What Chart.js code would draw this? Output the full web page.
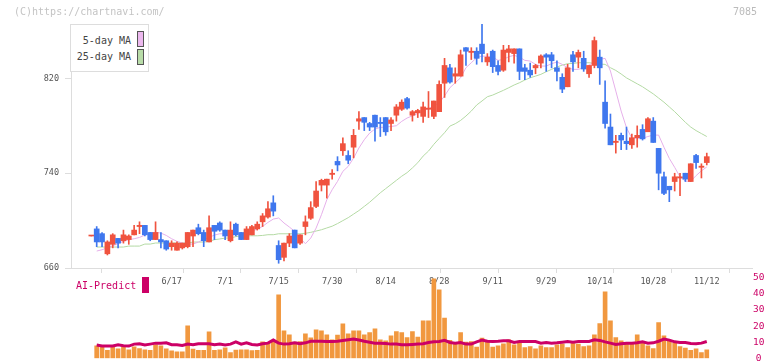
<!DOCTYPE html>
<html>
<head>
<meta charset="utf-8">
<script src="https://cdn.jsdelivr.net/npm/chart.js@4.4.1/dist/chart.umd.min.js"></script>
<style>
  body { margin: 0; background: #fff; }
  #wrap { position: relative; width: 772px; height: 361px; overflow: hidden; font-family: 'DejaVu Sans Mono', monospace; }
  #wrap canvas { position: absolute; left: 0; }
  .txt { position: absolute; white-space: nowrap; line-height: 1; }
  #legend { position: absolute; left: 70px; top: 24px; width: 77px; height: 46px; border: 1px solid #dddddd; background: #fff; z-index: 3; }
  .sw { position: absolute; width: 5px; height: 14px; border: 1px solid #555; }
</style>
</head>
<body>
<div id="wrap">
  <canvas id="main" width="772" height="300" style="top:0"></canvas>
  <canvas id="vol" width="772" height="96" style="top:270px"></canvas>
  <div class="txt" style="left:14px;top:7px;font-size:10px;color:#c4c4c4">(C)https://chartnavi.com/</div>
  <div class="txt" style="right:15px;top:7px;font-size:10px;color:#bbbbbb">7085</div>
  <div id="legend">
    <div class="txt" style="right:17px;top:11px;font-size:10px;color:#444">5-day MA</div>
    <div class="sw" style="left:66px;top:6px;background:#ecb8ee"></div>
    <div class="txt" style="right:17px;top:27px;font-size:10px;color:#444">25-day MA</div>
    <div class="sw" style="left:66px;top:24px;background:#b8dca8"></div>
  </div>
  <div class="txt" style="left:76px;top:281px;font-size:10px;color:#cc0066;z-index:3">AI-Predict</div>
  <div style="position:absolute;left:142px;top:277px;width:7px;height:16px;background:#cc0066;z-index:3"></div>
</div>
<script>
// daily candles (yen)
const opens  = [687,693,689,672,680,685,683,684,688,695,696,690,684,684,683,678,675,677,678,687,
                694,690,682,696,698,692,683,697,690,684,688,693,699,703,715,679,669,681,692,681,
                695,702,712,730,730,739,750,759,755,762,784,787,782,789,783,787,782,789,794,803,
                789,791,788,794,788,792,816,829,822,822,846,842,843,849,834,843,831,827,842,841,
                845,829,827,829,833,840,840,829,821,813,840,838,837,824,831,838,800,779,766,772,
                767,764,770,777,775,784,761,737,729,733,736,740,733,755,745,749];
const highs  = [687,695,690,683,689,685,692,688,696,699,696,690,699,690,683,683,682,681,690,692,
                697,692,704,696,699,692,699,698,690,695,696,699,706,716,721,683,681,689,692,688,
                704,716,733,735,735,743,754,770,759,777,792,787,783,789,787,787,787,798,802,804,
                793,794,800,809,801,818,837,832,829,844,846,846,846,867,841,844,835,848,848,845,
                845,832,833,832,840,841,842,835,824,832,843,844,843,831,855,844,818,790,772,774,
                779,773,780,781,787,787,761,741,729,740,740,740,748,756,748,757];
const lows   = [687,678,678,671,677,677,681,680,688,689,687,683,684,677,675,675,675,676,677,678,
                688,678,682,684,691,684,682,687,684,684,688,692,695,702,704,664,666,678,677,680,
                688,701,711,725,719,735,742,755,748,753,777,776,776,767,771,772,776,784,793,794,
                784,787,783,787,786,792,804,816,816,822,831,836,832,834,831,825,823,826,834,833,
                819,819,821,824,829,826,829,818,808,813,826,829,826,821,829,815,778,764,757,760,
                760,761,762,768,775,766,726,722,716,725,721,733,733,744,736,747];
const closes = [687,682,682,682,688,681,688,687,692,696,688,684,690,682,676,681,681,681,690,692,
                689,683,694,691,692,687,692,688,684,693,695,697,704,710,708,667,681,687,677,688,
                699,711,725,734,735,740,747,765,751,772,786,783,779,779,782,775,785,796,800,795,
                792,793,796,795,801,815,831,817,824,840,843,843,837,841,838,830,826,844,845,845,
                826,826,823,831,839,838,835,826,811,829,834,842,828,831,852,829,782,764,767,768,
                765,770,772,769,786,766,740,723,726,737,737,735,748,749,746,754];

// moving averages, from the second session on
const ma5  = [674.3,675.4,677.1,678.8,680.5,682.5,683.9,684.7,685.8,687.8,689.5,690.1,689.5,687.5,684.7,
              682.5,681.1,680.2,680.2,681.9,683.9,685.8,687.8,688.9,688.9,688.9,689.5,688.9,689.5,690.9,
              692.9,695.1,698.5,701.3,702.2,698.0,694.6,690.9,685.3,680.5,685.3,693.7,705.0,717.6,726.1,
              733.1,741.6,745.8,752.8,761.3,768.3,773.9,777.3,778.7,779.0,779.5,780.1,783.8,786.6,788.5,
              790.5,792.5,794.5,796.7,799.5,805.2,812.2,816.4,820.6,829.1,833.3,837.5,838.9,838.7,838.1,
              835.3,836.1,838.4,839.5,838.1,835.3,834.7,831.9,830.5,830.5,832.5,833.9,831.9,829.1,827.7,
              827.7,829.1,831.3,833.9,836.1,837.0,826.3,809.4,792.5,778.4,769.5,769.5,769.5,771.0,772.2,
              772.2,762.0,752.5,745.0,737.0,733.3,733.3,738.0,742.0,745.3];
const ma25 = [677.7,677.7,677.7,677.7,677.7,677.7,678.5,678.5,678.5,680.2,680.2,681.1,681.1,681.1,681.1,
              681.1,681.1,681.1,681.9,681.9,681.9,682.5,683.9,684.5,685.3,685.3,686.5,687.2,687.2,687.2,
              687.2,687.5,688.1,688.1,688.9,688.9,688.9,688.9,688.9,689.3,690.1,691.2,692.3,693.8,695.3,
              697.5,700.0,702.5,705.5,708.5,712.0,715.5,719.5,723.5,727.0,730.5,734.0,737.5,740.5,744.5,
              748.9,754.5,758.7,764.4,769.4,774.2,779.8,781.8,784.6,788.3,792.5,797.6,801.0,804.6,806.0,
              808.0,810.0,812.2,814.5,816.4,818.7,820.6,822.0,823.5,825.7,827.7,829.7,831.3,832.5,832.7,
              833.3,833.3,833.3,832.7,832.2,831.9,829.1,826.8,823.8,820.5,818.0,815.5,813.0,810.0,807.0,
              803.5,800.0,796.0,792.0,787.5,783.0,779.0,776.0,773.5,771.0];

// lower panel, from the second session on
const volume = [7.8,6.9,4.9,6.9,5.9,6.9,5.3,7.1,6.1,5.3,4.9,8.4,7.8,5.9,4.7,4.0,4.0,20.2,5.7,4.9,
                4.9,16.4,4.9,5.3,6.5,3.6,5.1,5.3,5.3,4.8,4.9,10.2,9.4,10.2,39.4,17.1,14.6,10.0,10.4,15.2,
                12.7,17.7,17.1,14.6,11.5,14.4,21.4,15.2,17.1,17.1,14.6,16.0,18.3,11.5,10.9,14.0,16.6,16.0,12.9,16.6,
                13.1,23.3,23.3,49.3,42.5,24.9,11.1,9.4,16.0,10.0,10.4,6.9,12.5,10.4,6.9,7.8,9.0,11.5,8.4,9.4,
                6.7,7.3,5.9,7.8,6.7,6.7,8.4,8.8,6.7,9.4,8.8,7.3,7.8,14.6,21.6,41.3,23.3,12.9,10.9,9.4,
                9.4,14.6,9.4,7.8,6.1,22.2,14.0,10.9,9.4,7.3,6.3,4.9,5.9,3.6,5.3];
const aiPredict = [8.2,7.6,7.6,7.6,8.4,7.8,7.6,8.8,9.0,8.2,8.8,9.4,9.4,9.6,8.4,8.4,8.0,8.8,8.4,9.0,
                   9.0,9.0,8.4,8.8,8.2,8.8,10.2,8.8,9.6,8.6,8.2,9.0,9.4,11.3,9.4,8.8,9.0,9.6,9.0,9.6,
                   10.6,10.6,10.6,10.4,10.4,10.6,11.1,11.5,11.9,11.3,10.6,10.0,9.4,9.4,9.2,8.8,8.8,8.4,8.4,8.6,
                   8.8,9.0,9.8,10.2,10.4,11.1,9.8,9.4,9.8,8.8,8.8,10.2,11.3,10.6,10.4,10.6,10.9,10.9,9.8,10.4,
                   10.4,10.4,10.4,9.4,9.8,9.4,9.6,10.0,10.4,10.0,10.4,10.4,10.4,11.5,11.1,10.2,9.4,8.6,9.0,9.4,
                   9.4,9.6,10.2,9.4,9.6,10.6,11.9,11.3,10.2,9.8,9.8,9.2,9.0,9.4,10.4];

const dateLabels = ['6/17','7/1','7/15','7/30','8/14','8/28','9/11','9/29','10/14','10/28','11/12'];
const dateIndex  = [15,25,35,45,55,65,75,85,95,105,115];
const priceTicks = [660,740,820];
const volTicks   = [0,10,20,30,40,50];

const UP = '#f0533f', DOWN = '#3f77ee';
const MONO = 'DejaVu Sans Mono';
const X_MIN = -3.8, X_MAX = 123.45;

const candleColors = opens.map((o, i) => closes[i] >= o ? UP : DOWN);
const bodies = opens.map((o, i) => ({x: i, y: [o, closes[i]]}));
const wicks  = lows.map((l, i) => ({x: i, y: [l, highs[i]]}));
const fromSecond = arr => arr.map((v, j) => ({x: j + 1, y: v}));

// 11 equal divisions of the time axis, plus the date positions
const gridTicks = [];
for (let j = 0; j <= 11; j++) gridTicks.push(X_MIN + j * (X_MAX - X_MIN) / 11);
const isDate = v => dateIndex.indexOf(v) >= 0;


const mainChart = new Chart(document.getElementById('main'), {
    type: 'bar',
    data: {
        datasets: [
            { data: bodies, backgroundColor: candleColors, barThickness: 5, minBarLength: 1, grouped: false, order: 0 },
            { data: wicks, backgroundColor: candleColors, barThickness: 1, grouped: false, order: 1 },
            { type: 'line', data: fromSecond(ma5), borderColor: '#e6b0ea', borderWidth: 1, pointRadius: 0, tension: 0, order: 2 },
            { type: 'line', data: fromSecond(ma25), borderColor: '#b4daa4', borderWidth: 1, pointRadius: 0, tension: 0, order: 3 }
        ]
    },
    options: {
        responsive: false,
        animation: false,
        layout: { padding: { top: 24, right: 20, left: 0, bottom: 0 } },
        plugins: { legend: { display: false }, tooltip: { enabled: false } },
        scales: {
            x: {
                type: 'linear', min: X_MIN, max: X_MAX, offset: false,
                afterBuildTicks: s => {
                    s.ticks = gridTicks.concat(dateIndex).sort((a, b) => a - b).map(v => ({ value: v }));
                },
                afterFit: s => { s.height = 32; },
                grid: {
                    drawOnChartArea: false, drawTicks: true, tickLength: 5,
                    tickColor: ctx => (ctx.tick && isDate(ctx.tick.value)) ? 'rgba(0,0,0,0)' : '#dddddd'
                },
                border: { color: '#dddddd' },
                ticks: {
                    autoSkip: false, maxRotation: 0, minRotation: 0, padding: 4,
                    color: '#555', font: { family: MONO, size: 8.5 },
                    callback: v => {
                        const k = dateIndex.indexOf(v);
                        return k >= 0 ? dateLabels[k] : '';
                    }
                }
            },
            y: {
                min: 660, max: 866,
                afterBuildTicks: s => { s.ticks = priceTicks.map(v => ({ value: v })); },
                afterFit: s => { s.width = 71; },
                grid: { drawOnChartArea: false, drawTicks: true, tickLength: 6, color: '#dddddd' },
                border: { color: '#dddddd' },
                ticks: { color: '#555', padding: 6, font: { family: MONO, size: 8.5 } }
            }
        }
    }
});


const volChart = new Chart(document.getElementById('vol'), {
    type: 'bar',
    data: {
        datasets: [
            { type: 'line', data: fromSecond(aiPredict), borderColor: '#cc0066', borderWidth: 3, pointRadius: 0, tension: 0, order: 0 },
            { data: fromSecond(volume), backgroundColor: '#f1983f', barThickness: 4, grouped: false, order: 1 }
        ]
    },
    options: {
        responsive: false,
        animation: false,
        layout: { padding: { top: 7.7, bottom: 7.7, left: 71, right: 0 } },
        plugins: { legend: { display: false }, tooltip: { enabled: false } },
        scales: {
            x: { type: 'linear', min: X_MIN, max: X_MAX, offset: false, display: false },
            y: {
                position: 'right', min: 0, max: 50,
                afterBuildTicks: s => { s.ticks = volTicks.map(v => ({ value: v })); },
                afterFit: s => { s.width = 20; },
                grid: { display: false, drawTicks: false },
                border: { display: false },
                ticks: { crossAlign: 'center', padding: 1, color: '#cc0066', font: { family: MONO, size: 9.5 } }
            }
        }
    }
});
</script>
</body>
</html>
